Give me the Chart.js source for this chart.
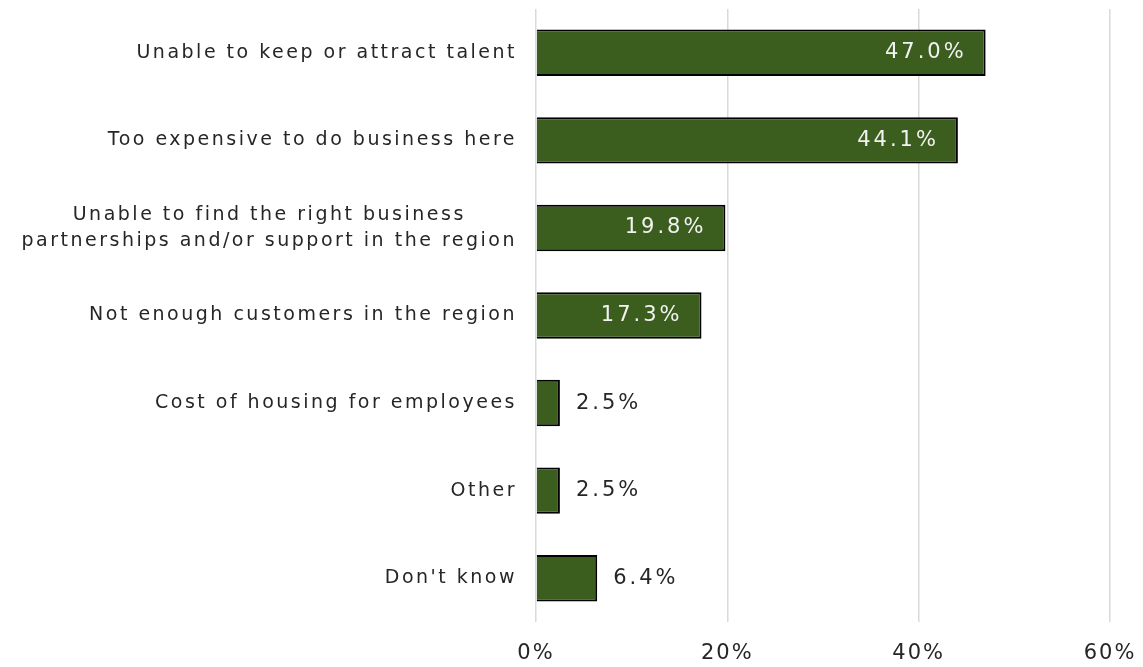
<!DOCTYPE html>
<html>
<head>
<meta charset="utf-8">
<script src="https://cdn.jsdelivr.net/npm/chart.js@4/dist/chart.umd.min.js"></script>
<style>
  html, body { margin: 0; padding: 0; background: #fff; }
  #wrap { width: 1143px; height: 667px; position: relative; }
</style>
</head>
<body>
<div id="wrap"><canvas id="reasons"></canvas></div>
<script>
  const categories = [
    'Unable to keep or attract talent',
    'Too expensive to do business here',
    ['Unable to find the right business', 'partnerships and/or support in the region'],
    'Not enough customers in the region',
    'Cost of housing for employees',
    'Other',
    "Don't know"
  ];
  const values = [47.0, 44.1, 19.8, 17.3, 2.5, 2.5, 6.4];
  const tickLabels = ['0%', '20%', '40%', '60%'];

  const FONT = "'DejaVu Sans', sans-serif";

  // wider tracking for the axis text
  const tracking = {
    id: 'tracking',
    beforeUpdate(chart) { chart.ctx.letterSpacing = '2px'; },
    beforeDraw(chart) { chart.ctx.letterSpacing = '2px'; }
  };

  // category names, right aligned block, lines centred on each other
  const categoryNames = {
    id: 'categoryNames',
    afterDraw(chart) {
      const ctx = chart.ctx;
      const y = chart.scales.y;
      const right = chart.chartArea.left - 19;
      const lineH = 26;
      ctx.save();
      ctx.letterSpacing = '2.5px';
      ctx.font = '19px ' + FONT;
      ctx.fillStyle = '#262626';
      ctx.textBaseline = 'middle';
      ctx.textAlign = 'center';
      categories.forEach((c, i) => {
        const lines = Array.isArray(c) ? c : [c];
        const w = Math.max(...lines.map(l => ctx.measureText(l).width));
        const cx = right - w / 2;
        const cy = y.getPixelForValue(i);
        lines.forEach((l, j) => {
          ctx.fillText(l, cx, cy + (j - (lines.length - 1) / 2) * lineH);
        });
      });
      ctx.restore();
    }
  };

  // value labels: inside the long bars, beside the short ones
  const valueLabels = {
    id: 'valueLabels',
    afterDatasetsDraw(chart) {
      const ctx = chart.ctx;
      const bars = chart.getDatasetMeta(0).data;
      ctx.save();
      ctx.letterSpacing = '3px';
      ctx.font = '21px ' + FONT;
      ctx.textBaseline = 'middle';
      bars.forEach((bar, i) => {
        const txt = values[i].toFixed(1) + '%';
        if (values[i] > 10) {
          ctx.fillStyle = '#f2f2f2';
          ctx.textAlign = 'right';
          ctx.fillText(txt, bar.x - 19, bar.y);
        } else {
          ctx.fillStyle = '#262626';
          ctx.textAlign = 'left';
          ctx.fillText(txt, bar.x + 16, bar.y);
        }
      });
      ctx.restore();
    }
  };

  new Chart(document.getElementById('reasons'), {
    type: 'bar',
    data: {
      labels: categories,
      datasets: [{
        data: values,
        backgroundColor: '#3b5e1f',
        borderColor: '#000000',
        borderWidth: 2,
        categoryPercentage: 1,
        barPercentage: 0.53
      }]
    },
    options: {
      indexAxis: 'y',
      responsive: true,
      maintainAspectRatio: false,
      animation: false,
      layout: { padding: { top: 9, right: 0, bottom: 0, left: 0 } },
      plugins: {
        legend: { display: false },
        tooltip: { enabled: false }
      },
      scales: {
        x: {
          min: 0,
          max: 60,
          ticks: {
            stepSize: 20,
            color: '#262626',
            font: { family: FONT, size: 21 },
            padding: 19,
            callback: (v, i) => tickLabels[i]
          },
          grid: { color: '#d9d9d9', lineWidth: 1.5, drawTicks: false },
          border: { display: false },
          afterFit(scale) {
            scale.height = 45;
            scale.paddingLeft = 0;
            scale.paddingRight = 33;
          }
        },
        y: {
          ticks: { display: false },
          grid: { display: false },
          border: { display: false },
          afterFit(scale) { scale.width = 536; }
        }
      }
    },
    plugins: [tracking, categoryNames, valueLabels]
  });
</script>
</body>
</html>
